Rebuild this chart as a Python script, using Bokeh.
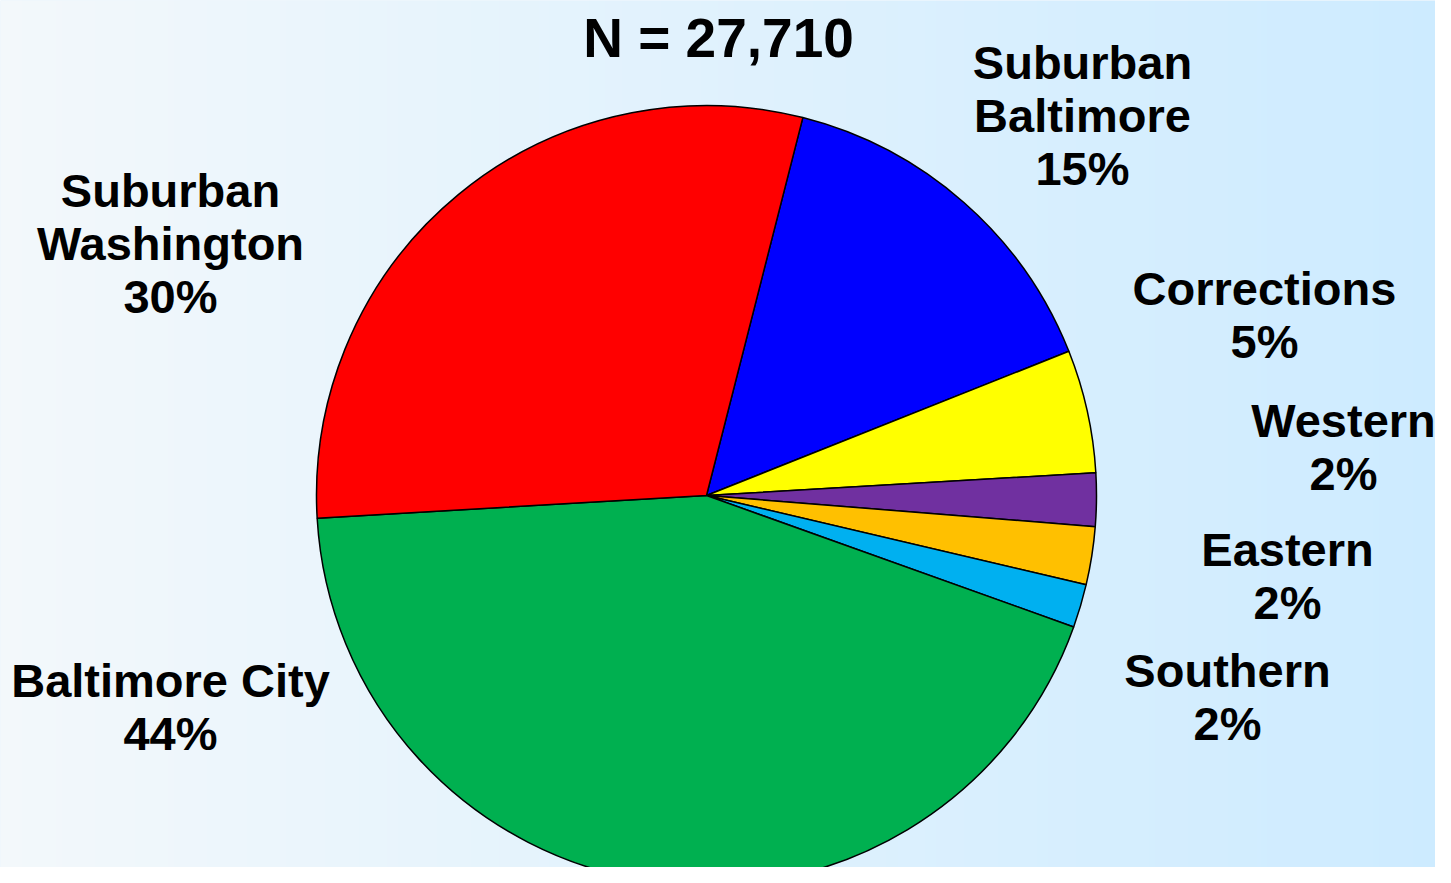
import numpy as np
from bokeh.plotting import figure
from bokeh.models import ColumnDataSource
from bokeh.core.properties import value
from bokeh.embed import file_html
from bokeh.resources import INLINE

# ---- data (clockwise from the top) ----
regions = ["Suburban Baltimore", "Corrections", "Western", "Eastern",
           "Southern", "Baltimore City", "Suburban Washington"]
shares = [15.0, 5.1, 2.2, 2.4, 1.8, 43.6, 29.9]
colors = ["#0000FF", "#FFFF00", "#7030A0", "#FFC000", "#00B0F0", "#00B050", "#FF0000"]
label_text = ["Suburban\nBaltimore", "Corrections", "Western", "Eastern",
              "Southern", "Baltimore City", "Suburban\nWashington"]
title_text = "N = 27,710"

W, H = 1435, 867
p = figure(width=W, height=H, x_range=(0, W), y_range=(0, H),
           output_backend="svg", toolbar_location=None, min_border=0)
p.axis.visible = False
p.grid.visible = False
p.outline_line_color = None
p.background_fill_color = "#E0F0FB"
p.border_fill_color = "#E0F0FB"

# horizontal background gradient
n = 256
t = np.linspace(0, 1, n)
c0 = np.array([0xF3, 0xF8, 0xFB])
c1 = np.array([0xCD, 0xEB, 0xFF])
rgb = (c0[None, :] * (1 - t[:, None]) + c1[None, :] * t[:, None]).round().astype(np.uint32)
img = np.empty((1, n), dtype=np.uint32)
view = img.view(dtype=np.uint8).reshape((1, n, 4))
view[0, :, 0] = rgb[:, 0]
view[0, :, 1] = rgb[:, 1]
view[0, :, 2] = rgb[:, 2]
view[0, :, 3] = 255
p.image_rgba(image=[img], x=0, y=0, dw=W, dh=H)

def Y(v):
    return H - v

# pie geometry (pixel coordinates)
cx, cy, r = 706, Y(495), 390
theta0 = np.deg2rad(90 - 14.3)
frac = np.array(shares) / sum(shares)
cum = np.concatenate([[0], np.cumsum(frac)])
a_start = theta0 - cum[1:] * 2 * np.pi
a_end = theta0 - cum[:-1] * 2 * np.pi

src = ColumnDataSource(dict(start=a_start, end=a_end, color=colors, region=regions))
p.wedge(x=cx, y=cy, radius=r, start_angle="start", end_angle="end",
        fill_color="color", line_color="black", line_width=1.5, source=src)

# labels
lx = [1082, 1264, 1343, 1287, 1227, 170, 170]
ly_ref = [115, 314, 446, 575, 696, 706, 243]
texts = [f"{lab}\n{round(s):.0f}%" for lab, s in zip(label_text, shares)]
lsrc = ColumnDataSource(dict(x=lx, y=[Y(v) for v in ly_ref], text=texts))
p.text(x="x", y="y", text="text", source=lsrc, text_align="center",
       text_baseline="middle", text_font=value("Liberation Sans"),
       text_font_style="bold", text_font_size="47px", text_line_height=1.0,
       text_color="black")

p.text(x=[718], y=[Y(37)], text=[title_text], text_align="center",
       text_baseline="middle", text_font=value("Liberation Sans"),
       text_font_style="bold", text_font_size="55px", text_color="black")

open("out.html", "w").write(file_html(p, INLINE))
